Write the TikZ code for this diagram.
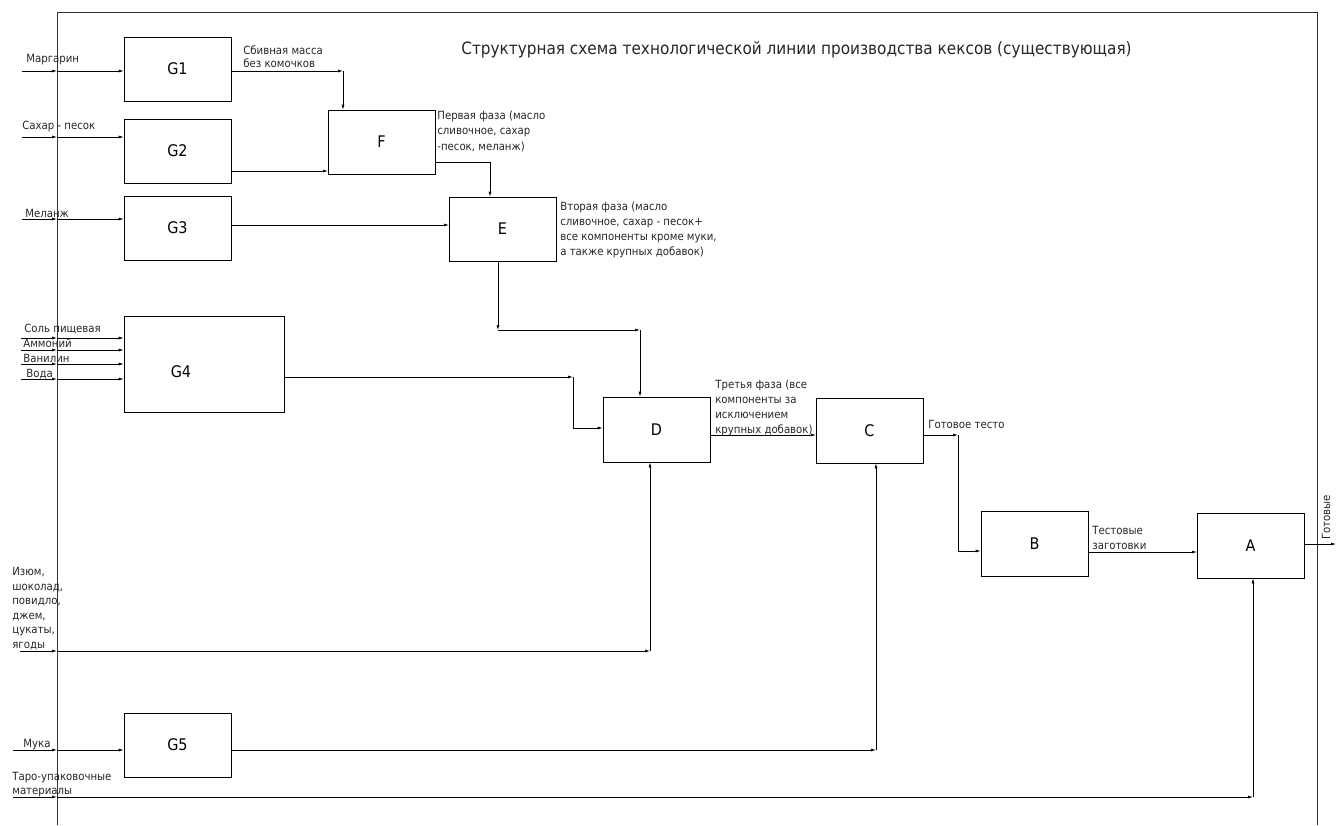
\documentclass[tikz,border=0pt]{standalone}
\usepackage{fontspec}
\setmainfont{DejaVu Sans Condensed}
\usetikzlibrary{arrows.meta}
\begin{document}
\begin{tikzpicture}[x=1pt,y=1pt,line width=0.7pt,>={Latex[length=5pt,width=3pt]}]
\tikzstyle{every node}+=[inner sep=0pt]
\tikzstyle{blk}=[draw,minimum width=107pt,minimum height=64pt,font=\fontsize{16}{18}\selectfont]
\tikzstyle{lbl}=[anchor=base west,align=left,text=black!85,font=\fontsize{11.3}{15}\selectfont]
\useasboundingbox (0,0) rectangle (1336,-825);
\draw [black!80] (57,-825) -- (57,-12) -- (1317,-12) -- (1317,-825);
\draw (461,-54) node [lbl,font=\fontsize{17}{20}\selectfont] (title) {Структурная схема технологической линии производства кексов (существующая)};
\draw (177.5,-69) node [blk] (g1) {G1};
\draw (177.5,-151) node [blk] (g2) {G2};
\draw (381.5,-142) node [blk] (f) {F};
\draw (177.5,-228) node [blk] (g3) {G3};
\draw (502.5,-229) node [blk] (e) {E};
\draw (204,-364) node [blk,minimum width=160pt,minimum height=96pt] (g4) {};
\draw (181,-372) node [font=\fontsize{16}{18}\selectfont] (g4txt) {G4};
\draw (656.5,-429.5) node [blk,minimum height=65pt] (d) {D};
\draw (869.5,-430.5) node [blk,minimum height=65pt] (c) {C};
\draw (1034.5,-543.5) node [blk,minimum height=65pt] (b) {B};
\draw (1250.5,-545.5) node [blk,minimum height=65pt] (a) {A};
\draw (177.5,-745) node [blk] (g5) {G5};
\draw (26,-62) node [lbl] (margarin) {Маргарин};
\draw (22,-129) node [lbl] (sahar) {Сахар - песок};
\draw (25,-217) node [lbl] (melanzh) {Меланж};
\draw (24,-332) node [lbl] (sol) {Соль пищевая};
\draw (23,-347) node [lbl] (ammoniy) {Аммоний};
\draw (23,-362) node [lbl] (vanilin) {Ванилин};
\draw (26,-377) node [lbl] (voda) {Вода};
\draw (12,-648) node [lbl,font=\fontsize{11.3}{14.5}\selectfont] (izyum) {Изюм,\\шоколад,\\повидло,\\джем,\\цукаты,\\ягоды};
\draw (23,-747) node [lbl] (muka) {Мука};
\draw (12,-794) node [lbl,font=\fontsize{11.3}{14}\selectfont] (taro) {Таро-упаковочные\\материалы};
\draw (243,-67) node [lbl,font=\fontsize{11.3}{13}\selectfont] (sbiv) {Сбивная масса\\без комочков};
\draw (437,-150) node [lbl,font=\fontsize{11.3}{15.5}\selectfont] (faza1) {Первая фаза (масло\\сливочное, сахар\\-песок, меланж)};
\draw (560,-255) node [lbl,font=\fontsize{11.3}{14.7}\selectfont] (faza2) {Вторая фаза (масло\\сливочное, сахар - песок+\\все компоненты кроме муки,\\а также крупных добавок)};
\draw (715,-433) node [lbl,font=\fontsize{11.3}{14.7}\selectfont] (faza3) {Третья фаза (все\\компоненты за\\исключением\\крупных добавок)};
\draw (928,-428) node [lbl] (testo) {Готовое тесто};
\draw (1092,-549) node [lbl] (zagot) {Тестовые\\заготовки};
\draw (1330,-540) node [lbl,rotate=90] (gotov) {Готовые};
\coordinate (m0) at (22,-71);
\coordinate (m1) at (57,-71);
\coordinate (s0) at (22,-137);
\coordinate (s1) at (57,-137);
\coordinate (l0) at (22,-219);
\coordinate (l1) at (57,-219);
\coordinate (p0) at (21,-338);
\coordinate (p1) at (57,-338);
\coordinate (q0) at (21,-350);
\coordinate (q1) at (57,-350);
\coordinate (v0) at (21,-364);
\coordinate (v1) at (57,-364);
\coordinate (w0) at (21,-379);
\coordinate (w1) at (57,-379);
\coordinate (r0) at (20,-651);
\coordinate (r1) at (57,-651);
\coordinate (u0) at (13,-750);
\coordinate (u1) at (57,-750);
\coordinate (t0) at (13,-797);
\coordinate (t1) at (57,-797);
\coordinate (k1) at (343,-71);
\coordinate (k2) at (328,-171);
\coordinate (k3) at (490,-162);
\coordinate (k4) at (449,-225);
\coordinate (k5) at (498,-330);
\coordinate (k6) at (640,-330);
\coordinate (k7) at (573,-377);
\coordinate (k8) at (573,-428);
\coordinate (k9) at (650,-651);
\coordinate (k10) at (816,-435);
\coordinate (k11) at (958,-435);
\coordinate (k12) at (958,-551);
\coordinate (k13) at (1197,-552);
\coordinate (k14) at (876,-750);
\coordinate (k15) at (1253,-797);
\coordinate (out) at (1336,-544);
\draw [->] (m0) -- (m1);
\draw [->] (m1) -- (m1 -| g1.west);
\draw [->] (s0) -- (s1);
\draw [->] (s1) -- (s1 -| g2.west);
\draw [->] (l0) -- (l1);
\draw [->] (l1) -- (l1 -| g3.west);
\draw [->] (p0) -- (p1);
\draw [->] (p1) -- (p1 -| g4.west);
\draw [->] (q0) -- (q1);
\draw [->] (q1) -- (q1 -| g4.west);
\draw [->] (v0) -- (v1);
\draw [->] (v1) -- (v1 -| g4.west);
\draw [->] (w0) -- (w1);
\draw [->] (w1) -- (w1 -| g4.west);
\draw [->] (r0) -- (r1);
\draw [->] (r1) -- (k9);
\draw [->] (k9) -- (k9 |- d.south);
\draw [->] (u0) -- (u1);
\draw [->] (u1) -- (u1 -| g5.west);
\draw [->] (t0) -- (t1);
\draw [->] (t1) -- (k15);
\draw [->] (k15) -- (k15 |- a.south);
\draw [->] (g1.east |- k1) -- (k1);
\draw [->] (k1) -- (k1 |- f.north);
\draw [->] (g2.east |- k2) -- (k2);
\draw [->] (f.east |- k3) -- (k3) -- (k3 |- e.north);
\draw [->] (g3.east |- k4) -- (k4);
\draw [->] (k5 |- e.south) -- (k5);
\draw [->] (k5) -- (k6);
\draw [->] (k6) -- (k6 |- d.north);
\draw [->] (g4.east |- k7) -- (k7);
\draw [->] (k7) -- (k8) -- (k8 -| d.west);
\draw [->] (d.east |- k10) -- (k10);
\draw [->] (c.east |- k11) -- (k11);
\draw [->] (k11) -- (k12) -- (k12 -| b.west);
\draw [->] (b.east |- k13) -- (k13);
\draw [->] (a.east |- out) -- (out);
\draw [->] (g5.east |- k14) -- (k14);
\draw [->] (k14) -- (k14 |- c.south);
\end{tikzpicture}
\end{document}
